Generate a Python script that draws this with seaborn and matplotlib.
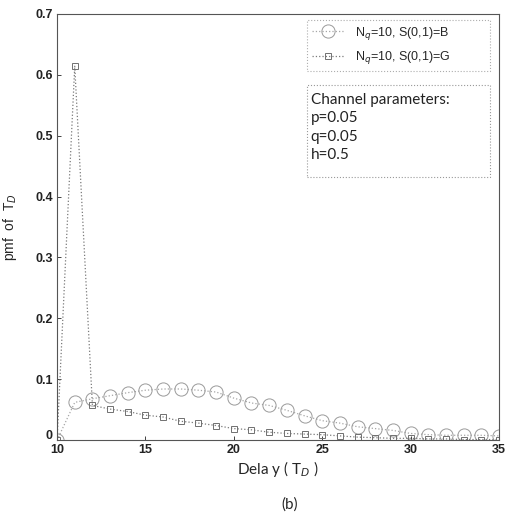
import matplotlib
matplotlib.use("Agg")
import matplotlib.pyplot as plt
from matplotlib.patches import Rectangle
from matplotlib.transforms import ScaledTranslation
import pandas as pd
import seaborn as sns

# values
delay = list(range(10, 36))
pmf_b = [0.0, 0.062, 0.068, 0.073, 0.078, 0.082, 0.084, 0.084, 0.082, 0.079,
         0.069, 0.061, 0.057, 0.049, 0.040, 0.032, 0.028, 0.022, 0.019, 0.016,
         0.011, 0.009, 0.008, 0.008, 0.008, 0.007]
pmf_g = [0.0, 0.614, 0.057, 0.051, 0.047, 0.041, 0.038, 0.031, 0.028, 0.024,
         0.019, 0.017, 0.013, 0.011, 0.010, 0.009, 0.007, 0.005, 0.004, 0.003,
         0.003, 0.002, 0.002, 0.001, 0.001, 0.001]
label_b = r"N$_q$=10, S(0,1)=B"
label_g = r"N$_q$=10, S(0,1)=G"
x_ticks = [10, 15, 20, 25, 30, 35]
y_ticks = [0, 0.1, 0.2, 0.3, 0.4, 0.5, 0.6, 0.7]
y_tick_labels = ["0", "0.1", "0.2", "0.3", "0.4", "0.5", "0.6", "0.7"]
channel_params = ["Channel parameters:", "p=0.05", "q=0.05", "h=0.5"]

sns.set_style("ticks")
plt.rcParams["font.family"] = ["Liberation Sans", "DejaVu Sans"]

df = pd.DataFrame({
    "delay": delay * 2,
    "pmf": pmf_b + pmf_g,
    "series": [label_b] * len(delay) + [label_g] * len(delay),
})

fig, ax = plt.subplots(figsize=(5.05, 5.13), dpi=100)
fig.subplots_adjust(left=0.113, right=0.988, top=0.973, bottom=0.142)

sns.lineplot(data=df[df.series == label_b], x="delay", y="pmf", ax=ax,
             color="#a6a6a6", linestyle=":", linewidth=0.9, marker="o",
             markersize=9.5, markerfacecolor="none", markeredgecolor="#9a9a9a",
             markeredgewidth=0.7, label=label_b)
sns.lineplot(data=df[df.series == label_g], x="delay", y="pmf", ax=ax,
             color="#7a7a7a", linestyle=":", linewidth=0.9, marker="s",
             markersize=5, markerfacecolor="none", markeredgecolor="#707070",
             markeredgewidth=0.7, label=label_g)

ax.set_xlim(10, 35)
ax.set_ylim(0, 0.7)
ax.set_xticks(x_ticks)
ax.set_xticklabels([str(t) for t in x_ticks], fontweight="bold")
ax.set_yticks(y_ticks)
ax.set_yticklabels(y_tick_labels, fontweight="bold")
ax.tick_params(direction="in", length=3, width=0.6, labelsize=9, pad=3,
               colors="#222222")
# the "0" sits a little above the corner, as in the original
lbl0 = ax.get_yticklabels()[0]
lbl0.set_transform(lbl0.get_transform()
                   + ScaledTranslation(0, 4 / 72, fig.dpi_scale_trans))
for s in ax.spines.values():
    s.set_visible(True)
    s.set_color("#555555")
    s.set_linewidth(0.8)

ax.set_ylabel("pmf  of  T$_D$", fontsize=10, labelpad=12)
ax.set_xlabel("Dela y ( T$_D$ )", fontsize=11, family=["Lato", "DejaVu Sans"])
ax.xaxis.set_label_coords(0.5, -0.045)

handles, labels = ax.get_legend_handles_labels()
leg = ax.legend(handles, labels, loc="upper left",
                bbox_to_anchor=(0.566, 0.986, 0.414, 0), mode="expand",
                borderaxespad=0, fontsize=9, frameon=True, fancybox=False,
                handlelength=2.6, labelspacing=0.6)
leg.get_frame().set_edgecolor("#999999")
leg.get_frame().set_linestyle(":")
leg.get_frame().set_linewidth(0.8)

ax.add_patch(Rectangle((0.566, 0.617), 0.414, 0.216, transform=ax.transAxes,
                       fill=False, edgecolor="#999999", linestyle=":",
                       linewidth=0.8))
ax.text(0.574, 0.815, "\n".join(channel_params), transform=ax.transAxes,
        ha="left", va="top", fontsize=11, linespacing=1.4,
        family=["Lato", "DejaVu Sans"], color="#222222")

fig.text(0.574, 0.016, "(b)", ha="center", va="center", fontsize=11,
         family=["Lato", "DejaVu Sans"])

fig.savefig("out.png", dpi=100)
